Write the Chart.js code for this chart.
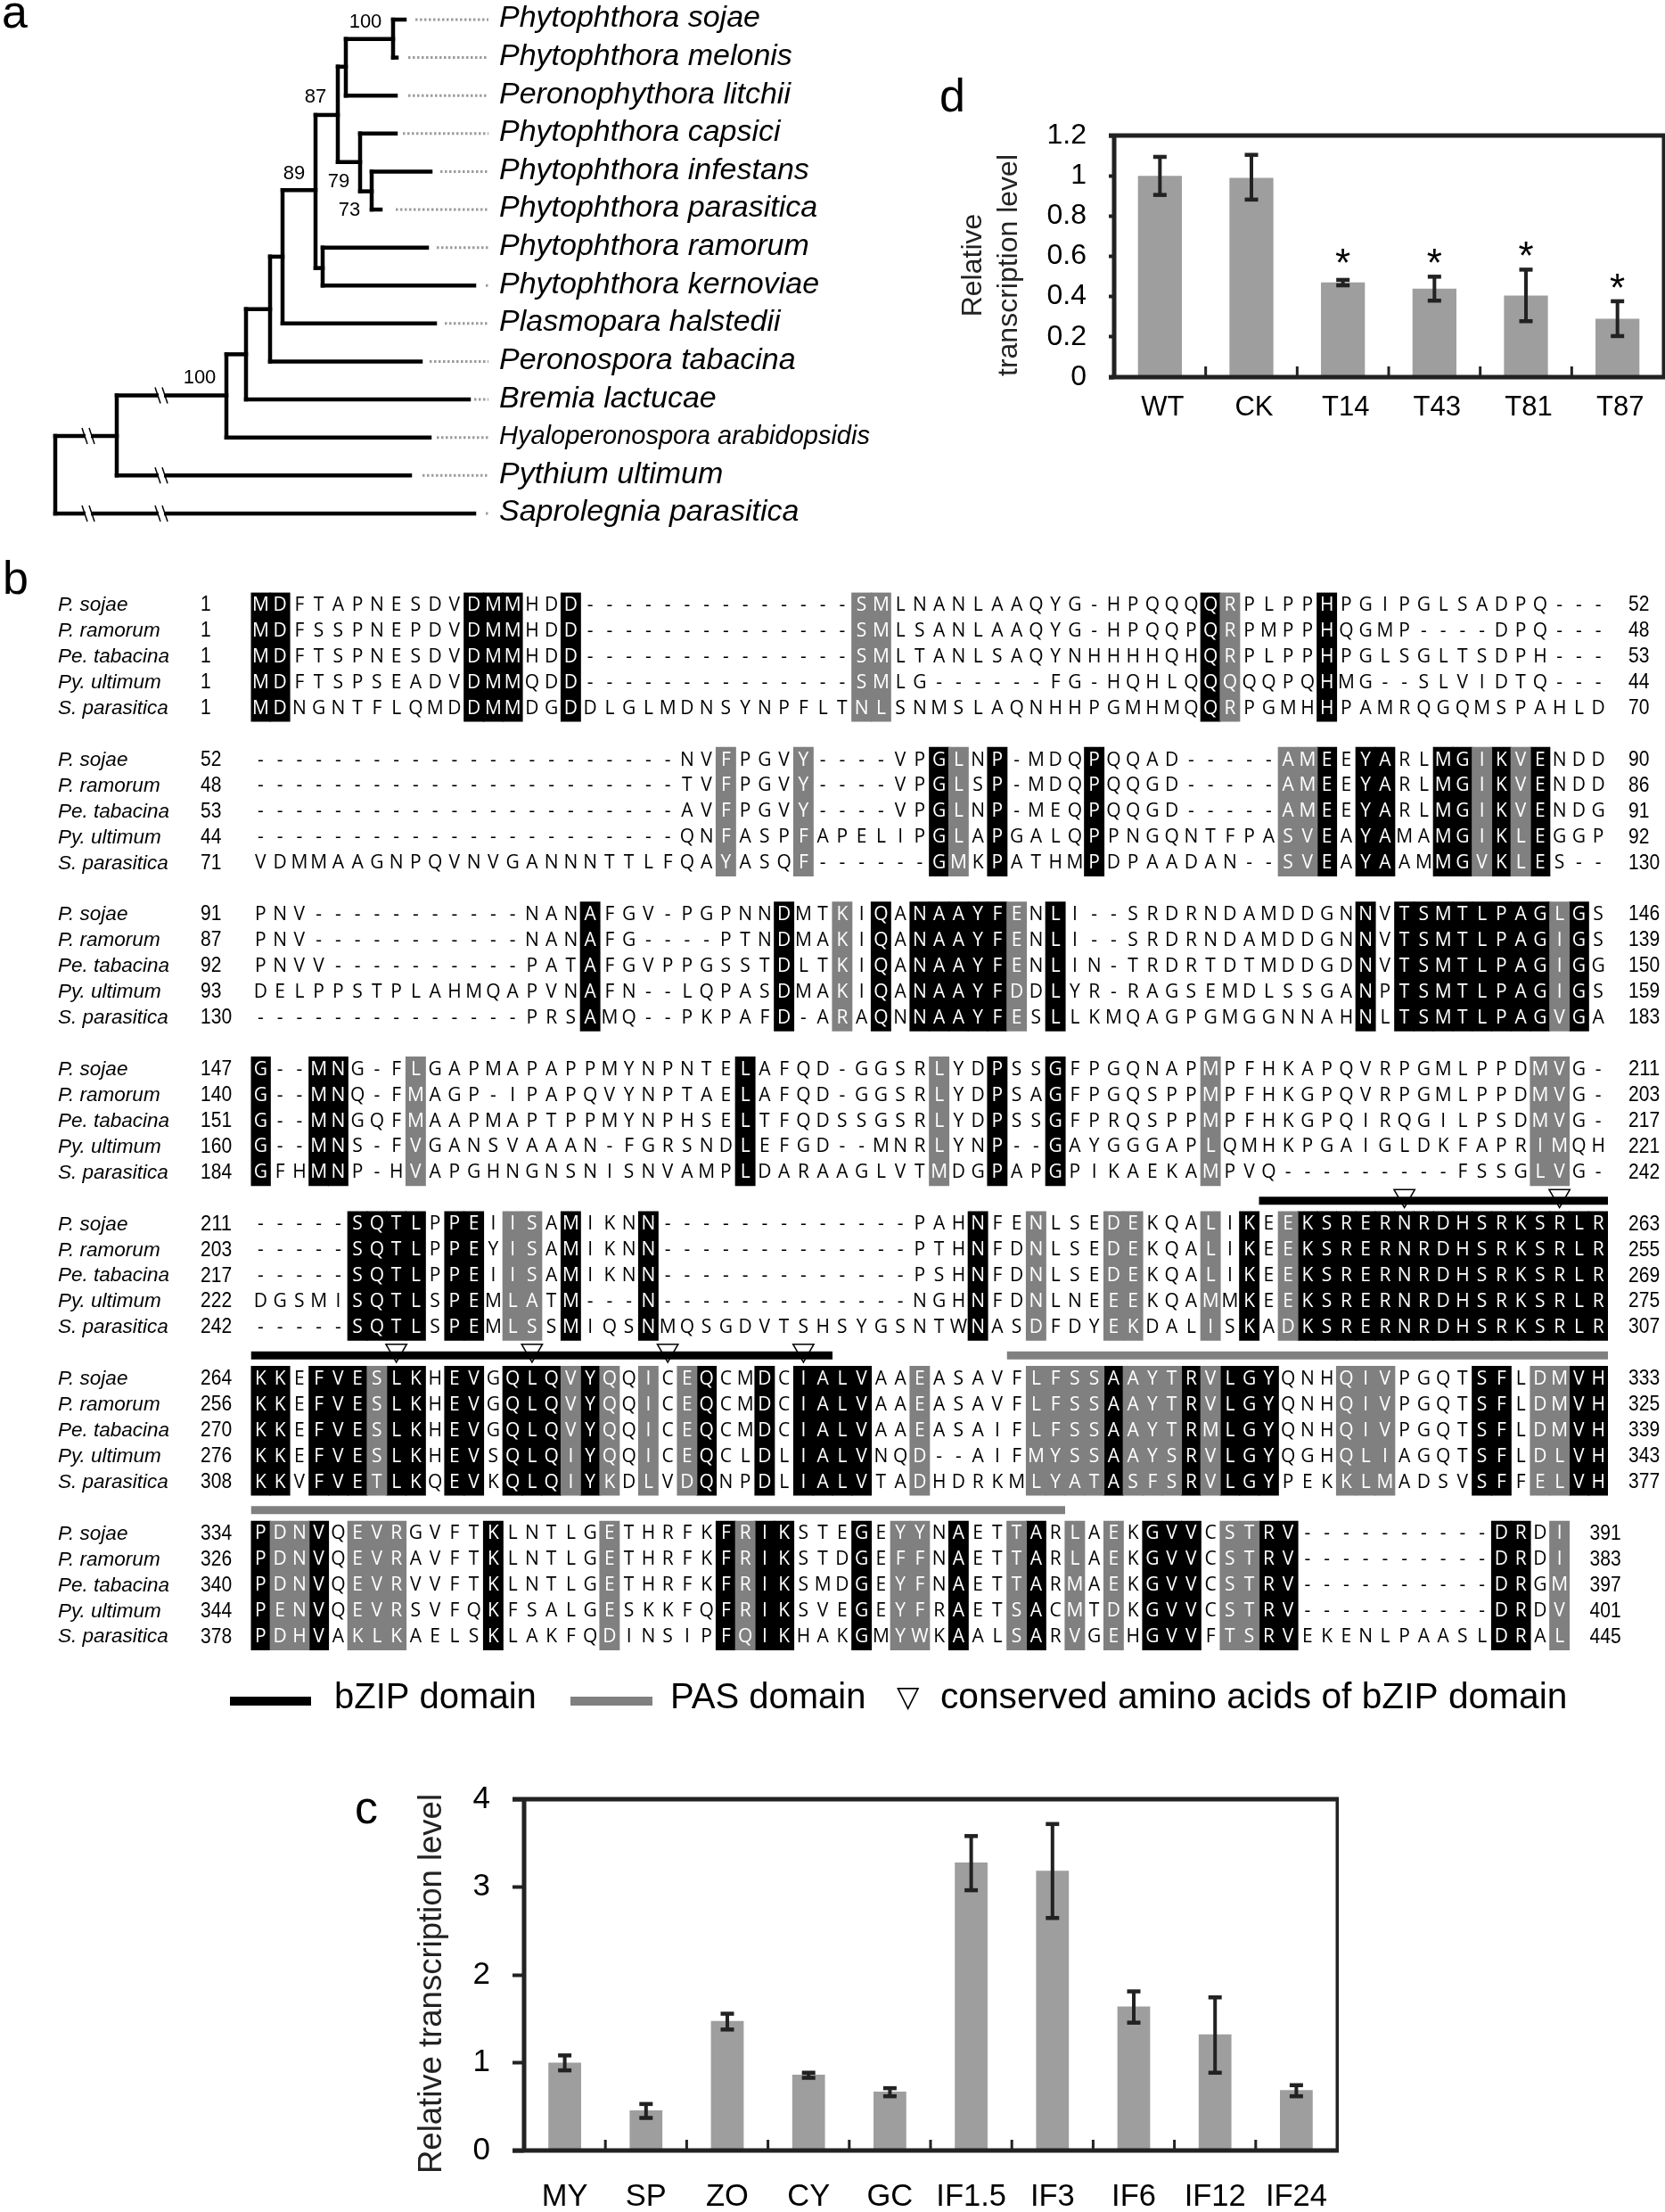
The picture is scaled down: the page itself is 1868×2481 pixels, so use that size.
<!DOCTYPE html>
<html>
<head>
<meta charset="utf-8">
<title>bZIP figure</title>
<script src="https://cdn.jsdelivr.net/npm/chart.js@4"></script>
<style>
  body { margin: 0; background: #fff; width: 1868px; height: 2481px; position: relative; overflow: hidden; }
  canvas { position: absolute; }
  .panel { position: absolute; font: 52px/1 "Liberation Sans", sans-serif; color: #000; }
</style>
</head>
<body>
<div class="panel" style="left:2px;top:-13px">a</div>
<div class="panel" style="left:3px;top:622px">b</div>
<div class="panel" style="left:398px;top:2001px">c</div>
<div class="panel" style="left:1054px;top:81px">d</div>
<canvas id="treeChart" width="1000" height="610" style="left:0;top:0"></canvas>
<canvas id="alignChart" width="1868" height="1320" style="left:0;top:630px"></canvas>
<canvas id="stageChart" width="1130" height="521" style="left:400px;top:1960px"></canvas>
<canvas id="mutantChart" width="818" height="400" style="left:1050px;top:90px"></canvas>
<script>
// ---- panel a, tree
const leafNames = ['Phytophthora sojae', 'Phytophthora melonis', 'Peronophythora litchii', 'Phytophthora capsici',
  'Phytophthora infestans', 'Phytophthora parasitica', 'Phytophthora ramorum', 'Phytophthora kernoviae',
  'Plasmopara halstedii', 'Peronospora tabacina', 'Bremia lactucae', 'Hyaloperonospora arabidopsidis',
  'Pythium ultimum', 'Saprolegnia parasitica']
const leafParent = [441, 441, 388, 404, 417, 417, 362, 362, 317, 303, 276, 254, 131, 62]
const leafTip = [454, 445, 444, 444, 483, 427, 479, 532, 488, 472, 526, 482, 460, 532]
const leaderStart = [466, 458, 458, 452, 494, 444, 490, 545, 499, 482, 532, 490, 474, 545]
const leaderEnd = 548
// depth, first row, last row
const cladeBars = [[62, 10.96, 13], [131, 9.89, 12], [254, 8.81, 11], [276, 7.62, 10], [303, 6.24, 9], [317, 4.49, 8],
  [354, 2.51, 6.54], [379, 1.24, 3.75], [388, 0.51, 2], [441, 0, 1], [404, 3, 4.52], [417, 4, 5], [362, 6, 7]]
// from depth, to depth, row
const stemBars = [[62, 131, 10.96], [131, 254, 9.89], [254, 276, 8.81], [276, 303, 7.62], [303, 317, 6.24], [317, 354, 4.49],
  [354, 379, 2.51], [379, 388, 1.24], [388, 441, 0.51], [379, 404, 3.75], [404, 417, 4.52], [354, 362, 6.54]]
const breakMarks = [[99, 10.96], [181, 9.89], [181, 12], [99, 13], [181, 13]]
const bootValues = ['100', '87', '89', '79', '73', '100']
const bootDepth = [410, 354, 330, 380, 392, 224]
const bootRow = [0.07, 2.04, 4.06, 4.27, 5.02, 9.44]

// ---- panel b, alignment
const shortNames = ['P. sojae', 'P. ramorum', 'Pe. tabacina', 'Py. ultimum', 'S. parasitica']
const sojaeSeq = [
  'MDFTAPNESDVDMMHDD--------------SMLNANLAAQYG-HPQQQQRPLPPHPGIPGLSADPQ---',
  '----------------------NVFPGVY----VPGLNP-MDQPQQAD-----AMEEYARLMGIKVENDD',
  'PNV-----------NANAFGV-PGPNNDMTKIQANAAYFENLI--SRDRNDAMDDGNNVTSMTLPAGLGS',
  'G--MNG-FLGAPMAPAPPMYNPNTELAFQD-GGSRLYDPSSGFPGQNAPMPFHKAPQVRPGMLPPDMVG-',
  '-----SQTLPPEIISAMIKNN-------------PAHNFENLSEDEKQALIKEEKSRERNRDHSRKSRLR',
  'KKEFVESLKHEVGQLQVYQQICEQCMDCIALVAAEASAVFLFSSAAYTRVLGYQNHQIVPGQTSFLDMVH',
  'PDNVQEVRGVFTKLNTLGETHRFKFRIKSTEGEYYNAETTARLAEKGVVCSTRV----------DRDI']
const ramorumSeq = [
  'MDFSSPNEPDVDMMHDD--------------SMLSANLAAQYG-HPQQPQRPMPPHQGMP----DPQ---',
  '----------------------TVFPGVY----VPGLSP-MDQPQQGD-----AMEEYARLMGIKVENDD',
  'PNV-----------NANAFG----PTNDMAKIQANAAYFENLI--SRDRNDAMDDGNNVTSMTLPAGIGS',
  'G--MNQ-FMAGP-IPAPQVYNPTAELAFQD-GGSRLYDPSAGFPGQSPPMPFHKGPQVRPGMLPPDMVG-',
  '-----SQTLPPEYISAMIKNN-------------PTHNFDNLSEDEKQALIKEEKSRERNRDHSRKSRLR',
  'KKEFVESLKHEVGQLQVYQQICEQCMDCIALVAAEASAVFLFSSAAYTRVLGYQNHQIVPGQTSFLDMVH',
  'PDNVQEVRAVFTKLNTLGETHRFKFRIKSTDGEFFNAETTARLAEKGVVCSTRV----------DRDI']
const tabacinaSeq = [
  'MDFTSPNESDVDMMHDD--------------SMLTANLSAQYNHHHHQHQRPLPPHPGLSGLTSDPH---',
  '----------------------AVFPGVY----VPGLNP-MEQPQQGD-----AMEEYARLMGIKVENDG',
  'PNVV----------PATAFGVPPGSSTDLTKIQANAAYFENLIN-TRDRTDTMDDGDNVTSMTLPAGIGG',
  'G--MNGQFMAAPMAPTPPMYNPHSELTFQDSSGSRLYDPSSGFPRQSPPMPFHKGPQIRQGILPSDMVG-',
  '-----SQTLPPEIISAMIKNN-------------PSHNFDNLSEDEKQALIKEEKSRERNRDHSRKSRLR',
  'KKEFVESLKHEVGQLQVYQQICEQCMDCIALVAAEASAIFLFSSAAYTRMLGYQNHQIVPGQTSFLDMVH',
  'PDNVQEVRVVFTKLNTLGETHRFKFRIKSMDGEYFNAETTARMAEKGVVCSTRV----------DRGM']
const ultimumSeq = [
  'MDFTSPSEADVDMMQDD--------------SMLG------FG-HQHLQQQQQPQHMG--SLVIDTQ---',
  '----------------------QNFASPFAPELIPGLAPGALQPPNGQNTFPASVEAYAMAMGIKLEGGP',
  'DELPPSTPLAHMQAPVNAFN--LQPASDMAKIQANAAYFDDLYR-RAGSEMDLSSGANPTSMTLPAGIGS',
  'G--MNS-FVGANSVAAAN-FGRSNDLEFGD--MNRLYNP--GAYGGGAPLQMHKPGAIGLDKFAPRIMQH',
  'DGSMISQTLSPEMLATM---N-------------NGHNFDNLNEEEKQAMMKEEKSRERNRDHSRKSRLR',
  'KKEFVESLKHEVSQLQIYQQICEQCLDLIALVNQD--AIFMYSSAAYSRVLGYQGHQLIAGQTSFLDLVH',
  'PENVQEVRSVFQKFSALGESKKFQFRIKSVEGEYFRAETSACMTDKGVVCSTRV----------DRDV']
const parasiticaSeq = [
  'MDNGNTFLQMDDMMDGDDLGLMDNSYNPFLTNLSNMSLAQNHHPGMHMQQRPGMHHPAMRQGQMSPAHLD',
  'VDMMAAGNPQVNVGANNNTTLFQAYASQF------GMKPATHMPDPAADAN--SVEAYAAMMGVKLES--',
  '--------------PRSAMQ--PKPAFD-ARAQNNAAYFESLLKMQAGPGMGGNNAHNLTSMTLPAGVGA',
  'GFHMNP-HVAPGHNGNSNISNVAMPLDARAAGLVTMDGPAPGPIKAEKAMPVQ---------FSSGLVG-',
  '-----SQTLSPEMLSSMIQSNMQSGDVTSHSYGSNTWNASDFDYEKDALISKADKSRERNRDHSRKSRLR',
  'KKVFVETLKQEVKQLQIYKDLVDQNPDLIALVTADHDRKMLYATASFSRVLGYPEKKLMADSVSFFELVH',
  'PDHVAKLKAELSKLAKFQDINSIPFQIKHAKGMYWKAALSARVGEHGVVFTSRVEKENLPAASLDRAL']
const startNumbers = [[1, 52, 91, 147, 211, 264, 334], [1, 48, 87, 140, 203, 256, 326], [1, 53, 92, 151, 217, 270, 340],
  [1, 44, 93, 160, 222, 276, 344], [1, 71, 130, 184, 242, 308, 378]]
const endNumbers = [[52, 90, 146, 211, 263, 333, 391], [48, 86, 139, 203, 255, 325, 383], [53, 91, 150, 217, 269, 339, 397],
  [44, 92, 159, 221, 275, 343, 401], [70, 130, 183, 242, 307, 377, 445]]
// identical and similar columns of each block, counted from 1
const blackColumns = [
  [1, 2, 12, 13, 14, 17, 50, 56],
  [36, 39, 44, 56, 58, 59, 62, 63, 65, 67],
  [18, 28, 33, 35, 36, 37, 38, 39, 42, 58, 60, 61, 62, 63, 64, 65, 66, 67, 69],
  [1, 4, 5, 26, 39, 42],
  [6, 7, 8, 9, 11, 12, 17, 21, 38, 52, 55, 56, 57, 58, 59, 60, 61, 62, 63, 64, 65, 66, 67, 68, 69, 70],
  [1, 2, 4, 5, 6, 8, 9, 11, 12, 14, 15, 16, 18, 24, 27, 29, 30, 31, 32, 45, 49, 51, 52, 53, 64, 65, 69, 70],
  [1, 4, 13, 25, 27, 28, 32, 37, 41, 47, 48, 49, 53, 54, 65, 66]]
const grayColumns = [
  [32, 33, 51],
  [25, 29, 37, 54, 55, 64, 66],
  [31, 40, 68],
  [9, 36, 50, 67, 68],
  [14, 15, 41, 45, 46, 50, 54],
  [7, 17, 19, 21, 23, 35, 41, 42, 43, 44, 46, 47, 48, 50, 57, 58, 59, 67, 68],
  [2, 3, 6, 7, 8, 19, 26, 34, 35, 40, 43, 45, 51, 52, 68]]
// block, first column edge, last column edge
const bzipSpans = [[4, 52, 70], [5, 0, 30]]
const pasSpans = [[5, 39, 70], [6, 0, 42]]
// block, column
const conservedSites = [[4, 60], [4, 68], [5, 8], [5, 15], [5, 22], [5, 29]]

// ---- panel c, life stages
const stageLabels = ['MY', 'SP', 'ZO', 'CY', 'GC', 'IF1.5', 'IF3', 'IF6', 'IF12', 'IF24']
const stageValues = [1.0, 0.458, 1.475, 0.864, 0.671, 3.278, 3.186, 1.64, 1.322, 0.688]
const stageErrTop = [1.085, 0.532, 1.56, 0.888, 0.712, 3.583, 3.72, 1.814, 1.746, 0.746]
const stageErrLow = [0.915, 0.373, 1.38, 0.83, 0.62, 2.966, 2.65, 1.458, 0.888, 0.62]

// ---- panel d, transformants
const mutantLabels = ['WT', 'CK', 'T14', 'T43', 'T81', 'T87']
const mutantValues = [1.0, 0.99, 0.47, 0.44, 0.405, 0.29]
const mutantErrTop = [1.095, 1.105, 0.484, 0.5, 0.535, 0.378]
const mutantErrLow = [0.906, 0.883, 0.457, 0.381, 0.279, 0.205]
const mutantStars = [null, null, 0.594, 0.594, 0.63, 0.469]

const sans = '"Liberation Sans", Arial, sans-serif'
const allSeqs = [sojaeSeq, ramorumSeq, tabacinaSeq, ultimumSeq, parasiticaSeq]
const rowsPerBlock = 6

function rowOf(block, row) {
  return rowsPerBlock * block + row
}

// ---- tree chart
function segment(x1, y1, x2, y2, color, width, dash) {
  return {
    type: 'scatter', showLine: true, pointRadius: 0, borderColor: color, borderWidth: width,
    borderDash: dash || [], borderCapStyle: dash ? 'butt' : 'square',
    data: [{ x: x1, y: y1 }, { x: x2, y: y2 }]
  }
}

const treeSets = []
leafNames.forEach((n, i) => {
  treeSets.push(segment(leaderStart[i], i, leaderEnd, i, '#9c9c9c', 3, [2.5, 2.5]))
  treeSets.push(segment(leafParent[i], i, leafTip[i], i, '#000', 4.5))
})
cladeBars.forEach(c => treeSets.push(segment(c[0], c[1], c[0], c[2], '#000', 4.5)))
stemBars.forEach(s => treeSets.push(segment(s[0], s[2], s[1], s[2], '#000', 4.5)))

const treeText = {
  id: 'treeText',
  afterDatasetsDraw(chart) {
    const ctx = chart.ctx, x = chart.scales.x, y = chart.scales.y
    ctx.save()
    // axis breaks
    breakMarks.forEach(m => {
      const px = x.getPixelForValue(m[0]), py = y.getPixelForValue(m[1])
      ctx.fillStyle = '#fff'
      ctx.fillRect(px - 3, py - 4, 6, 8)
      ctx.strokeStyle = '#000'
      ctx.lineWidth = 1.5
      ;[-4, 4].forEach(d => {
        ctx.beginPath()
        ctx.moveTo(px + d - 3, py - 9)
        ctx.lineTo(px + d + 3, py + 9)
        ctx.stroke()
      })
    })
    ctx.fillStyle = '#000'
    ctx.textBaseline = 'middle'
    ctx.textAlign = 'left'
    leafNames.forEach((n, i) => {
      ctx.font = 'italic ' + (i == 11 ? 29 : 34) + 'px ' + sans
      ctx.fillText(n, 560, y.getPixelForValue(i) - 1)
    })
    ctx.font = '22px ' + sans
    ctx.textAlign = 'center'
    bootValues.forEach((b, i) => ctx.fillText(b, x.getPixelForValue(bootDepth[i]), y.getPixelForValue(bootRow[i])))
    ctx.restore()
  }
}

new Chart(document.getElementById('treeChart'), {
  data: { datasets: treeSets },
  plugins: [treeText],
  options: {
    responsive: false, animation: false,
    layout: { padding: 0 },
    plugins: { legend: { display: false }, tooltip: { enabled: false } },
    scales: {
      x: { type: 'linear', min: 0, max: 1000, display: false },
      y: { type: 'linear', min: -0.516, max: 13.8, reverse: true, display: false }
    }
  }
})

// ---- alignment chart
function shadeBars(columns, color) {
  const cells = []
  columns.forEach((cols, b) => cols.forEach(c => cells.push({ x: c - 0.5, y: [rowOf(b, -0.5), rowOf(b, 4.5)] })))
  return { type: 'bar', data: cells, backgroundColor: color, borderWidth: 0, barThickness: 22.25, grouped: false }
}

function domainLine(spans, color) {
  return spans.map(s => ({
    type: 'line', pointRadius: 0, borderColor: color, borderWidth: 9,
    data: [{ x: s[1], y: rowOf(s[0], -0.92) }, { x: s[2], y: rowOf(s[0], -0.92) }]
  }))
}

const alignSets = [
  shadeBars(grayColumns, '#808080'),
  shadeBars(blackColumns, '#000'),
  ...domainLine(pasSpans, '#808080'),
  ...domainLine(bzipSpans, '#000'),
  {
    type: 'scatter', pointStyle: 'triangle', rotation: 180, pointRadius: 13.5,
    pointBackgroundColor: '#fff', pointBorderColor: '#000', pointBorderWidth: 1.5,
    data: conservedSites.map(s => ({ x: s[1] - 0.5, y: rowOf(s[0], -1.12) }))
  }
]

const alignText = {
  id: 'alignText',
  afterDatasetsDraw(chart) {
    const ctx = chart.ctx, x = chart.scales.x, y = chart.scales.y
    ctx.save()
    ctx.textBaseline = 'middle'
    allSeqs.forEach((seq, s) => {
      seq.forEach((line, b) => {
        const py = y.getPixelForValue(rowOf(b, s))
        ctx.fillStyle = '#000'
        ctx.textAlign = 'left'
        ctx.font = 'italic 22.5px ' + sans
        ctx.fillText(shortNames[s], 65, py)
        // numbers are tall and narrow in the figure
        ctx.font = '23px ' + sans
        const first = String(startNumbers[s][b]), last = String(endNumbers[s][b])
        ctx.fillText(first, 225, py, first.length * 11.7)
        ctx.fillText(last, x.getPixelForValue(line.length + 1.06), py, last.length * 11.7)
        ctx.textAlign = 'center'
        ctx.font = '21px "Open Sans", sans-serif'
        for (let c = 0; c < line.length; c++) {
          const n = c + 1
          const shaded = blackColumns[b].includes(n) || grayColumns[b].includes(n)
          ctx.fillStyle = shaded ? '#fff' : '#000'
          ctx.fillText(line[c], x.getPixelForValue(c + 0.5), py)
        }
      })
    })
    // legend under the alignment
    const top = 1270
    ctx.fillStyle = '#000'
    ctx.fillRect(258, top + 3, 91, 10)
    ctx.fillStyle = '#808080'
    ctx.fillRect(640, top + 3, 92, 10)
    ctx.fillStyle = '#000'
    ctx.textAlign = 'left'
    ctx.font = '40px ' + sans
    ctx.fillText('bZIP domain', 375, top + 5)
    ctx.fillText('PAS domain', 752, top + 5)
    ctx.font = '40.7px ' + sans
    ctx.fillText('conserved amino acids of bZIP domain', 1055, top + 5)
    ctx.font = '33px "DejaVu Sans", sans-serif'
    ctx.fillText('\u25BD', 1006, top + 5)
    ctx.restore()
  }
}

new Chart(document.getElementById('alignChart'), {
  data: { datasets: alignSets },
  plugins: [alignText],
  options: {
    responsive: false, animation: false,
    layout: { padding: { left: 281.5, right: 64, top: 34.5, bottom: 70.4 } },
    plugins: { legend: { display: false }, tooltip: { enabled: false } },
    scales: {
      x: { type: 'linear', min: 0, max: 70, offset: false, display: false },
      y: { type: 'linear', min: -0.5, max: 41.5, reverse: true, display: false }
    }
  }
})

// ---- bar panels
const barDecor = {
  id: 'barDecor',
  afterDatasetsDraw(chart, args, o) {
    const ctx = chart.ctx, x = chart.scales.x, y = chart.scales.y, a = chart.chartArea
    const ds = chart.data.datasets[0]
    ctx.save()
    ctx.fillStyle = '#222'
    // box, the top and bottom lines run out over the tick marks
    ctx.fillRect(a.left - o.tick, a.top - 2.5, a.right - a.left + o.tick + 2, 5)
    ctx.fillRect(a.left - o.tick, a.bottom - 2.5, a.right - a.left + o.tick + 2, 5)
    ctx.fillRect(a.left - 2.5, a.top, 5, a.bottom - a.top)
    ctx.fillRect(a.right - 1.5, a.top, 3.5, a.bottom - a.top)
    // inward ticks between the categories
    for (let i = 1; i < ds.data.length; i++) {
      const px = x.getPixelForValue(i - 0.5)
      ctx.fillRect(px - 1.5, a.bottom - 12, 3, 12)
    }
    // error bars
    ds.data.forEach((v, i) => {
      const px = x.getPixelForValue(i)
      const t = y.getPixelForValue(ds.errTop[i]), l = y.getPixelForValue(ds.errLow[i])
      ctx.fillRect(px - 2, t, 4, l - t)
      ctx.fillRect(px - o.cap, t - 2, o.cap * 2, 4.5)
      ctx.fillRect(px - o.cap, l - 2, o.cap * 2, 4.5)
    })
    // significance stars
    if (ds.stars) {
      ctx.fillStyle = '#000'
      ctx.textAlign = 'center'
      ctx.font = '44px ' + sans
      ds.stars.forEach((s, i) => {
        if (s != null) ctx.fillText('*', x.getPixelForValue(i), y.getPixelForValue(s) + 21)
      })
    }
    // axis title
    ctx.fillStyle = '#222'
    ctx.textAlign = 'center'
    ctx.textBaseline = 'middle'
    ctx.font = o.titleFont + 'px ' + sans
    o.title.forEach((t, i) => {
      ctx.save()
      ctx.translate(o.titleX[i], (a.top + a.bottom) / 2 + 10)
      ctx.rotate(-Math.PI / 2)
      ctx.fillText(t, 0, 0)
      ctx.restore()
    })
    ctx.restore()
  }
}

function barPanel(id, labels, values, errTop, errLow, stars, p) {
  new Chart(document.getElementById(id), {
    type: 'bar',
    data: {
      labels: labels,
      datasets: [{
        data: values, errTop: errTop, errLow: errLow, stars: stars,
        backgroundColor: '#9e9e9e', borderWidth: 0,
        barPercentage: p.barShare, categoryPercentage: 1
      }]
    },
    plugins: [barDecor],
    options: {
      responsive: false, animation: false,
      layout: { padding: { top: p.top, right: p.right, left: 0, bottom: 0 } },
      plugins: {
        legend: { display: false }, tooltip: { enabled: false },
        barDecor: { tick: p.tick, cap: p.cap, title: p.title, titleX: p.titleX, titleFont: p.titleFont }
      },
      scales: {
        x: {
          grid: { display: false, drawTicks: false }, border: { display: false },
          ticks: { color: '#000', font: { family: sans, size: p.xFont }, padding: p.xPad, maxRotation: 0, autoSkip: false, labelOffset: p.xShift },
          afterFit: s => { s.height = p.xHeight }
        },
        y: {
          min: 0, max: p.max,
          grid: { drawOnChartArea: false, tickLength: p.tick, tickWidth: 4, tickColor: '#222' },
          border: { display: false },
          ticks: {
            stepSize: p.step, padding: p.yPad, color: '#000', font: { family: sans, size: p.yFont },
            callback: v => String(Number(v.toFixed(1)))
          },
          afterFit: s => { s.width = p.yWidth }
        }
      }
    }
  })
}

barPanel('stageChart', stageLabels, stageValues, stageErrTop, stageErrLow, null, {
  barShare: 0.403, top: 58, right: 30, tick: 13, cap: 7.5, max: 4, step: 1, xHeight: 69, yWidth: 188,
  xFont: 34.5, xPad: 32, xShift: 0, yFont: 35, yPad: 25,
  title: ['Relative transcription level'], titleX: [85], titleFont: 36.5
})
barPanel('mutantChart', mutantLabels, mutantValues, mutantErrTop, mutantErrLow, mutantStars, {
  barShare: 0.48, top: 62, right: 2, tick: 6, cap: 7.5, max: 1.2, step: 0.2, xHeight: 67, yWidth: 200,
  xFont: 31, xPad: 16, xShift: 3, yFont: 32, yPad: 25,
  title: ['Relative', 'transcription level'], titleX: [42, 82], titleFont: 32
})
</script>
</body>
</html>
